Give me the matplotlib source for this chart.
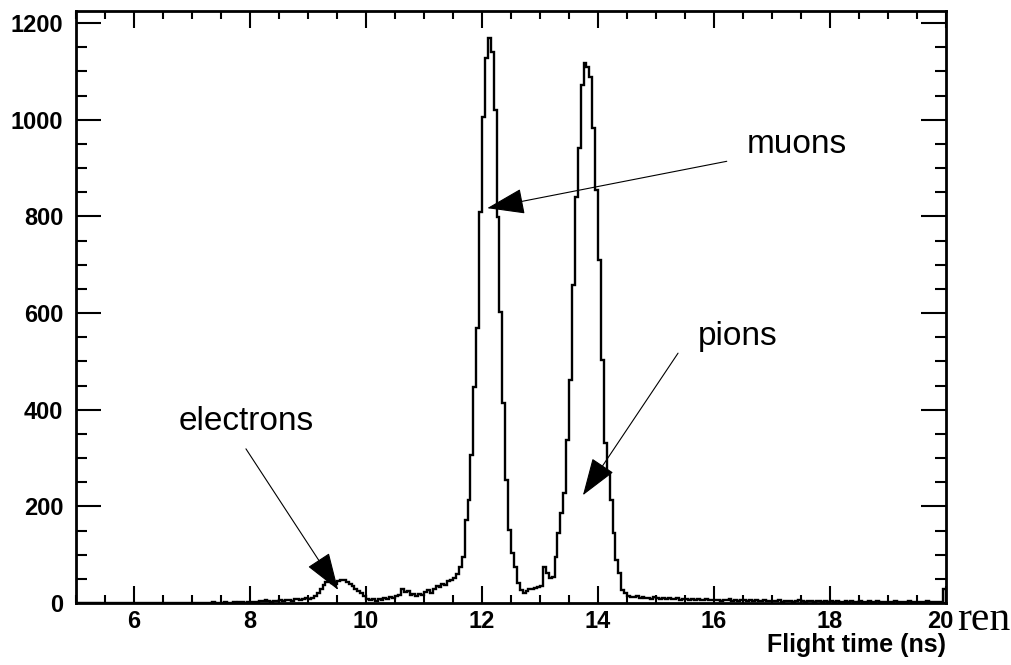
import numpy as np
from matplotlib import pyplot as plt
from matplotlib.patches import ArrowStyle
from matplotlib.ticker import MultipleLocator
from matplotlib.transforms import ScaledTranslation

plt.rcParams['font.family'] = ['Liberation Sans', 'DejaVu Sans']

# -------------------------
# histogram of flight time, bins of 0.05 ns from 5 to 20 ns
# -------------------------
t_min, t_max, n_bins = 5.0, 20.0, 300

counts_5_9 = [
    0, 0, 0, 0, 0, 0, 0, 0, 0, 0, 0, 0, 0, 0, 0, 0, 1, 0, 0, 0,
    0, 0, 1, 0, 0, 0, 1, 0, 0, 0, 1, 0, 0, 1, 0, 0, 0, 1, 0, 1,
    0, 1, 0, 1, 1, 0, 1, 2, 1, 0, 1, 2, 1, 1, 2, 1, 3, 2, 1, 2,
    2, 3, 2, 4, 5, 6, 4, 3, 5, 4, 6, 5, 7, 6, 5, 8, 9, 7, 8, 10,
]
counts_9_115 = [
    8, 10, 14, 20, 30, 38, 44, 46, 42, 40,
    46, 48, 47, 44, 40, 35, 30, 25, 20, 15,
    8, 6, 8, 5, 9, 7, 10, 8, 12, 10,
    14, 16, 28, 22, 25, 16, 18, 15, 19, 17,
    22, 26, 20, 30, 35, 33, 40, 38, 45, 48,
]
counts_115_145 = [
    52, 60, 75, 95, 172, 213, 306, 447, 569, 810,
    1006, 1127, 1170, 1140, 1020, 799, 602, 414, 254, 151,
    103, 75, 41, 27, 20, 25, 28, 30, 32, 33,
    35, 75, 62, 52, 54, 95, 145, 186, 228, 337,
    461, 658, 840, 941, 1072, 1117, 1110, 1089, 983, 855,
    710, 503, 331, 269, 213, 145, 89, 62, 27, 20,
]
counts_145_20 = [
    15, 13, 12, 14, 11, 12, 10, 11, 9, 12,
    10, 9, 11, 8, 10, 9, 8, 10, 7, 9, 8, 7, 9, 6, 8, 7, 6, 8, 7, 6,
    7, 6, 5, 7, 6, 8, 5, 6, 5, 7, 6, 4, 6, 5, 7, 5, 4, 6, 5, 4,
    5, 4, 6, 3, 5, 4, 5, 3, 4, 6, 4, 3, 5, 4, 3, 4, 5, 3, 4, 3,
    4, 3, 5, 3, 2, 4, 3, 4, 2, 3, 5, 3, 2, 4, 3, 2, 4, 3, 2, 3,
    3, 2, 4, 2, 3, 2, 3, 4, 2, 3, 2, 3, 2, 4, 2, 3, 2, 3, 2, 30,
]
counts = np.array(counts_5_9 + counts_9_115 + counts_115_145 + counts_145_20)
edges = np.linspace(t_min, t_max, n_bins + 1)

# annotations: label, text position, arrow tail, arrow tip (data coords)
labels = ['muons', 'pions', 'electrons']
text_xy = [(17.43, 931), (16.41, 534), (7.93, 358)]
tail_xy = [(16.22, 914), (15.38, 517), (7.93, 319)]
tip_xy = [(12.09, 817), (13.74, 223), (9.52, 27)]

# -------------------------
# plot
# -------------------------
fig = plt.figure(figsize=(10.11, 6.65), dpi=100)
ax = fig.add_axes([76 / 1011, 1 - 603 / 665, (946 - 76) / 1011, (603 - 11) / 665])

ax.stairs(counts, edges, color='black', lw=1.7)

ax.set_xlim(t_min, t_max)
ax.set_ylim(0, 1225)
ax.xaxis.set_major_locator(MultipleLocator(2))
ax.xaxis.set_minor_locator(MultipleLocator(0.5))
ax.yaxis.set_major_locator(MultipleLocator(200))
ax.yaxis.set_minor_locator(MultipleLocator(50))
ax.set_xticks(np.arange(6, 21, 2))

for s in ax.spines.values():
    s.set_linewidth(2.0)

ax.tick_params(which='both', direction='in', top=True, right=True, width=1.5)
ax.tick_params(axis='y', which='major', length=18, pad=9, labelsize=17)
ax.tick_params(axis='y', which='minor', length=8)
ax.tick_params(axis='x', which='major', length=12, pad=5, labelsize=17)
ax.tick_params(axis='x', which='minor', length=6)
for lab in ax.get_xticklabels() + ax.get_yticklabels():
    lab.set_fontweight('bold')

# last x label sits a bit to the left, as in the original
last = ax.get_xticklabels()[-1]
last.set_transform(last.get_transform() + ScaledTranslation(-6 / 100, 0, fig.dpi_scale_trans))

ax.set_xlabel('Flight time (ns)', fontsize=18, fontweight='bold', loc='right', labelpad=0)

head = ArrowStyle('-|>', head_length=1.6, head_width=0.55)
for lab, txy, a0, a1 in zip(labels, text_xy, tail_xy, tip_xy):
    ax.text(txy[0], txy[1], lab, fontsize=24, ha='center', va='baseline')
    ax.annotate('', xy=a1, xytext=a0,
                arrowprops=dict(arrowstyle=head, mutation_scale=15, lw=0.8,
                                color='black', shrinkA=0, shrinkB=0))

fig.text(957 / 1011, 1 - 630 / 665, 'ren', fontsize=30,
         family='Liberation Serif', va='baseline', ha='left')

fig.savefig('out.png', dpi=100)
